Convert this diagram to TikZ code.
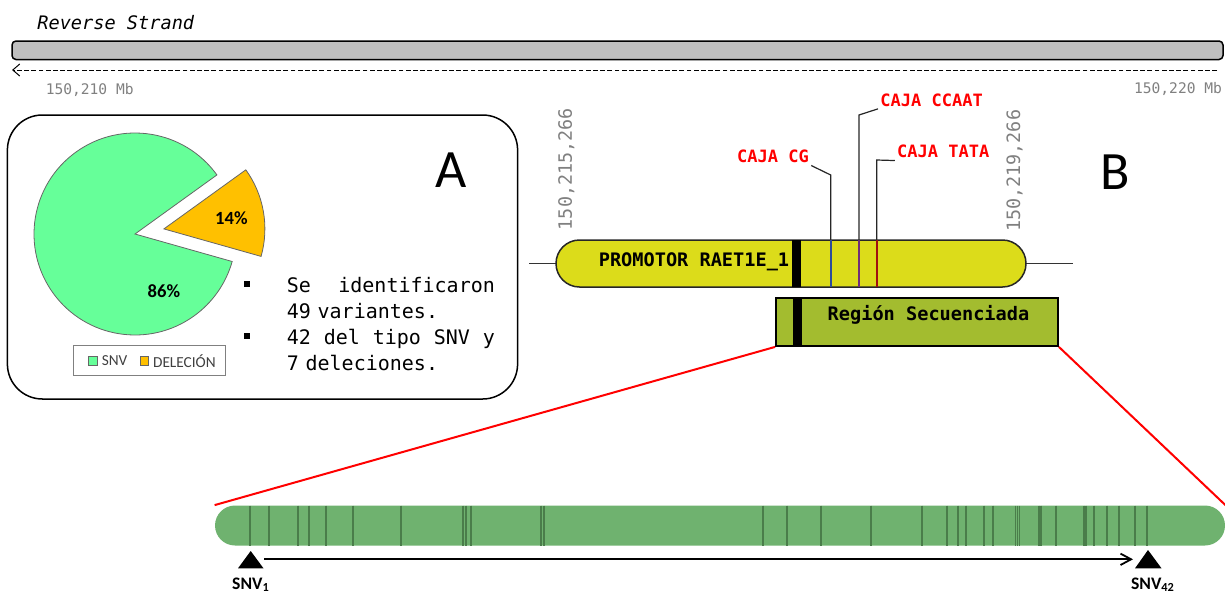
\documentclass[tikz,border=0pt]{standalone}
\usepackage{fontspec}
\setmonofont{DejaVu Sans Mono}[ItalicFont={DejaVu Sans Mono Oblique},BoldFont={DejaVu Sans Mono Bold}]
\newfontfamily\calfont{Carlito}
\usepackage{xcolor}
\usepackage{tikz}
\usetikzlibrary{arrows.meta}
\definecolor{strandgray}{HTML}{BFBFBF}
\definecolor{snvgreen}{HTML}{66FF99}
\definecolor{delorange}{HTML}{FFC000}
\definecolor{promyellow}{HTML}{DCDC1A}
\definecolor{regolive}{HTML}{A3BC2F}
\definecolor{seqgreen}{HTML}{6FB26F}
\definecolor{seqline}{HTML}{4A7D4A}
\definecolor{cgcol}{HTML}{2E4C9A}
\definecolor{ccaatcol}{HTML}{702D7A}
\definecolor{tatacol}{HTML}{A01010}

\begin{document}
\begin{tikzpicture}[x=0.5pt, y=-0.5pt, inner sep=0pt,
  postxt/.style={text=gray, font=\ttfamily\fontsize{#1}{#1}\selectfont},
  boxlbl/.style={font=\ttfamily\bfseries\fontsize{9.3}{9.3}\selectfont},
  cajalbl/.style={text=red, inner sep=1pt, font=\ttfamily\bfseries\fontsize{8.5}{8.5}\selectfont},
  leader/.style={black!85, line width=0.6pt},
  pielbl/.style={font=\calfont\bfseries\fontsize{9.3}{9.3}\selectfont},
  legtxt/.style={anchor=west, text=black!75, font=\calfont\fontsize{7.65}{7.65}\selectfont},
  legsq/.style={draw=gray!80!black, line width=0.4pt, minimum size=4.2pt},
  bullet/.style={fill, minimum size=3pt},
  itemtxt/.style={anchor=base west, text width=104pt, align=left, font=\ttfamily\fontsize{10}{12.9}\selectfont},
  panel/.style={font=\calfont\fontsize{27}{27}\selectfont},
  snvlbl/.style={font=\calfont\bfseries\fontsize{8.8}{8.8}\selectfont}]
  \useasboundingbox (0,0) rectangle (1225,595);

  % strand
  \node[anchor=base west, font=\ttfamily\itshape\fontsize{9.3}{9.3}\selectfont] (rev) at (37,29) {Reverse Strand};
  \draw[line width=0.75pt, fill=strandgray, rounded corners=2pt] (12,41) rectangle (1223,59.5);
  \coordinate (dashR) at (1217,70);
  \coordinate (dashL) at (12,70);
  \draw[line width=0.5pt, dash pattern=on 2.4pt off 1.2pt, -{Straight Barb[length=3.5pt,width=6pt]}] (dashR) -- (dashL);
  \node[postxt=7.3] (mbL) at (89.7,90) {150,210 Mb};
  \node[postxt=7.3] (mbR) at (1178,89.3) {150,220 Mb};

  % panel A
  \draw[line width=0.75pt, rounded corners=17.5pt] (7.4,115) rectangle (517.6,399);
  \node[panel] (labA) at (451,170) {A};
  \coordinate (pc) at (135,234);
  \coordinate (dc) at (163.9,228.9);
  \filldraw[fill=snvgreen, draw=gray!80!black, line width=0.4pt] (pc) -- ++(-35.8:101) arc[start angle=-35.8, end angle=-344.2, radius=101] -- cycle;
  \filldraw[fill=delorange, draw=gray!80!black, line width=0.4pt] (dc) -- ++(15.8:101) arc[start angle=15.8, end angle=-35.8, radius=101] -- cycle;
  \node[pielbl] (p14) at (231.4,218.1) {14\%};
  \node[pielbl] (p86) at (163.9,291.4) {86\%};
  \node[draw=gray, line width=0.5pt, minimum width=75.9pt, minimum height=15pt] (leg) at (149.5,360.8) {};
  \node[legsq, fill=snvgreen] (sqS) at (92.7,361) {};
  \node[legtxt] (legS) at (101.4,360.8) {SNV};
  \node[legsq, fill=delorange] (sqD) at (144.4,361) {};
  \node[legtxt] (legD) at (152.7,360.8) {DELECIÓN};
  \node[bullet] (bul1) at (246.6,284) {};
  \node[bullet] (bul2) at (246.6,336.3) {};
  \node[itemtxt] (item1) at (286.5,292.4) {Se\hfill identificaron\\49 variantes.};
  \node[itemtxt] (item2) at (286.5,344.8) {42\hfill del\hfill tipo\hfill SNV\hfill y\\7 deleciones.};

  % panel B
  \node[panel] (labB) at (1115,172) {B};
  \coordinate (axL) at (529,263.5);
  \coordinate (axR) at (1073,263.5);
  \draw[black!80, line width=0.6pt] (axL) -- (axR);
  \node[draw=black!85, line width=0.75pt, fill=promyellow, rounded corners=11.75pt, minimum width=235pt, minimum height=23.5pt] (prom) at (791,263.5) {};
  \fill (792,240) rectangle (801,287);
  \node[boxlbl] (promtxt) at (694,261.7) {PROMOTOR RAET1E\_1};
  \coordinate (cgtop) at (830.7,240);
  \coordinate (ccaattop) at (859,240);
  \coordinate (tatatop) at (876.7,240);
  \draw[cgcol, line width=0.8pt] (cgtop) -- (830.7,287);
  \draw[ccaatcol, line width=0.8pt] (ccaattop) -- (859,287);
  \draw[tatacol, line width=0.8pt] (tatatop) -- (876.7,287);
  \node[cajalbl] (cg) at (773,156.7) {CAJA CG};
  \node[cajalbl] (ccaat) at (931.6,100) {CAJA CCAAT};
  \node[cajalbl] (tata) at (943.2,151.7) {CAJA TATA};
  \draw[leader] (cgtop) -- (830.7,175) -- (cg.south east);
  \draw[leader] (ccaattop) -- (859,115) -- (ccaat.south west);
  \draw[leader] (tatatop) -- (876.7,160) -- (tata.south west);
  \node[postxt=9.2, rotate=90] (posL) at (566.4,169.2) {150,215,266};
  \node[postxt=9.2, rotate=90] (posR) at (1014.6,170.8) {150,219,266};
  \node[draw, line width=0.9pt, fill=regolive, minimum width=141pt, minimum height=24pt] (reg) at (917,322) {};
  \fill (792.7,298.3) rectangle (802,346);
  \node[boxlbl] (regtxt) at (928.5,315) {Región Secuenciada};

  % sequenced stretch
  \node[fill=seqgreen, rounded corners=10pt, minimum width=505pt, minimum height=20pt] (seq) at (720,525.5) {};
  \foreach \v in {250,269,298,309,326,353,401,463,466,471,541,544,763,787,821,871,922,947,958,966,984,993,1015.5,1017.5,1019.5,1039,1041,1056,1084,1086,1094,1107,1119,1135,1147}
    \draw[seqline, line width=0.6pt] (\v,505.5) -- (\v,545.5);
  \draw[red, line width=1pt] (reg.south west) -- (seq.north west);
  \draw[red, line width=1pt] (reg.south east) -- (seq.north east);
  \fill (250.7,551) -- (263.5,568.3) -- (238,568.3) -- cycle;
  \fill (1148,550) -- (1161.5,568.3) -- (1135,568.3) -- cycle;
  \coordinate (ini) at (264,559.3);
  \coordinate (fin) at (1133,559.3);
  \draw[line width=0.9pt, -{Straight Barb[length=5.3pt,width=5.7pt]}] (ini) -- (fin);
  \node[snvlbl] (snv1) at (251,585) {SNV\textsubscript{1}};
  \node[snvlbl] (snv42) at (1153,585) {SNV\textsubscript{42}};
\end{tikzpicture}
\end{document}
